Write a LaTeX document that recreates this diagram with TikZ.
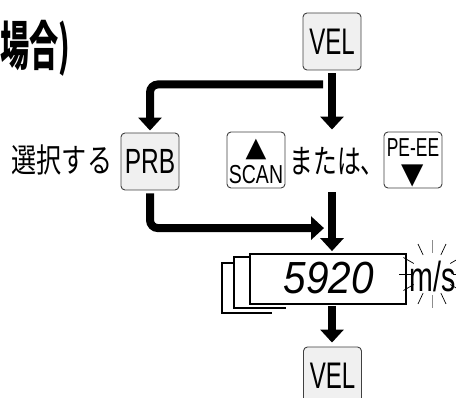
\documentclass[tikz,border=0pt]{standalone}
\usepackage{fontspec}
\setsansfont{Liberation Sans}
\newfontfamily\jpfont{Noto Sans CJK JP}
\newfontfamily\symfont{DejaVu Sans}
\usetikzlibrary{arrows.meta, calc}
\definecolor{keygray}{rgb}{0.94,0.94,0.94}
\definecolor{keyline}{rgb}{0.25,0.25,0.25}
\definecolor{rayline}{rgb}{0.55,0.55,0.55}
\newcommand{\cond}[2][0.65]{\scalebox{#1}[1]{#2}}
\newcommand{\fsz}[1]{\fontsize{#1}{#1}\selectfont}

\begin{document}
\begin{tikzpicture}[x=1pt, y=-1pt,
  key/.style={
    draw=keyline, line width=0.9pt, rounded corners=4pt, fill=keygray,
    minimum width=58pt, minimum height=57pt, inner sep=0pt,
    font=\sffamily\fsz{37}
  },
  wkey/.style={key, fill=white, minimum height=56pt},
  lbl/.style={inner sep=0pt, font=\sffamily\fsz{26}},
  sym/.style={inner sep=0pt, font=\symfont\fsz{27}},
  jp/.style={inner sep=0pt, font=\jpfont\fsz{33}},
  arr/.style={-{Triangle[width=23pt, length=13pt]}, line width=8pt},
  frame/.style={line width=1.5pt},
  ray/.style={line width=0.7pt},
]
\useasboundingbox (0,0) rectangle (456,398);
\clip (0,0) rectangle (456,398);

%% ---- heading ----
\node[jp, font=\jpfont\bfseries\fsz{53}, anchor=west] (title) at (0,48)
  {\cond[0.55]{場合)}};

%% ---- keys ----
\node[key] (vel1) at (332,41.5) {\cond{VEL}};
\node[key, font=\sffamily\fsz{35}] (prb) at (150,161.5) {\cond[0.7]{PRB}};
\node[jp] (sentaku) at (62,160) {\cond[0.76]{選択する}};

\node[wkey] (scan) at (256,160) {};
\node[sym] (scanup) at ($(scan.center)+(0,-11)$) {▲};
\node[lbl] (scant) at ($(scan.center)+(0,15)$) {\cond[0.75]{SCAN}};

\node[jp] (mata) at (337,161) {\cond[0.72]{または、}};

\node[wkey] (pe) at (413,160) {};
\node[lbl] (pet) at ($(pe.center)+(0,-12)$) {\cond[0.67]{PE-EE}};
\node[sym, font=\symfont\fsz{29}] (pedown) at ($(pe.center)+(0,16)$) {▼};

%% ---- display ----
\node[draw, line width=1.8pt, fill=white, minimum width=156pt,
  minimum height=50pt, inner sep=0pt] (disp) at (328,279) {};
\node[inner sep=0pt, font=\sffamily\itshape\fsz{45}] (val) at (329,278)
  {\cond[0.9]{5920}};
\draw[frame] ($(disp.north west)+(0,4)$) -| ($(disp.north west)+(-15,55)$)
  -- ($(disp.north west)+(37,55)$);
\draw[frame] ($(disp.north west)+(-15,10)$) -| ($(disp.north west)+(-27,60)$)
  -- ($(disp.north west)+(23,60)$);

%% ---- blinking unit ----
\coordinate (glow) at (432,274);
\foreach \a in {0,30,65,115,150,180,210,245,295,330}{
  \draw[ray] ($(glow)+(\a:21)$) -- ($(glow)+(\a:33)$);
}
\foreach \a in {90,270}{
  \draw[ray, rayline] ($(glow)+(\a:21)$) -- ($(glow)+(\a:34)$);
}
\node[lbl, font=\sffamily\fsz{42}] (unit) at (433,276) {\cond[0.68]{m/s}};

\node[key] (vel2) at (332.5,375.5) {\cond{VEL}};

%% ---- arrows ----
\coordinate (split) at ($(vel1.south)+(-9,14)$);
\coordinate (merge) at ($(vel1.south |- disp.north)+(-8,-25)$);
\draw[arr, shorten <=3pt, shorten >=2pt] (vel1.south) -- (vel1.south |- scan.north);
\draw[arr, rounded corners=8pt, shorten >=2pt] (split) -| (prb.north);
\draw[arr, rounded corners=8pt, shorten <=3pt] (prb.south) |- (merge);
\draw[arr, shorten <=4pt, shorten >=2pt] (vel1.south |- scan.south) -- (vel1.south |- disp.north);
\draw[arr, shorten <=1pt, shorten >=4pt] (vel1.south |- disp.south) -- (vel1.south |- vel2.north);

\end{tikzpicture}
\end{document}
